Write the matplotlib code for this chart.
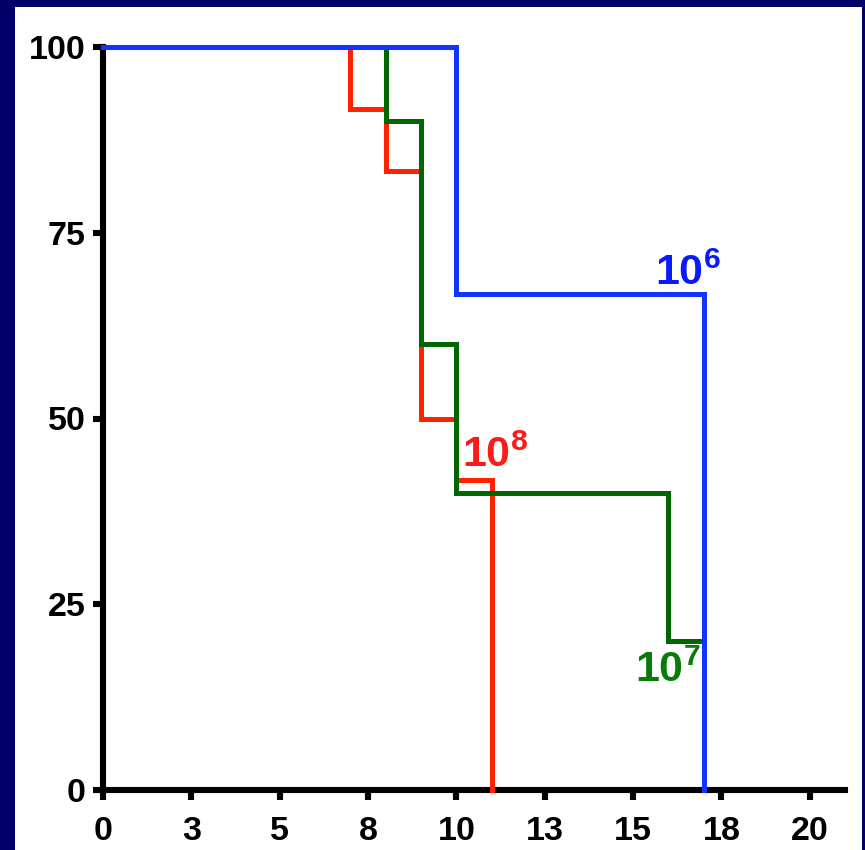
import matplotlib
matplotlib.use("Agg")
import matplotlib.pyplot as plt
from matplotlib.patches import Rectangle

plt.rcParams['font.family'] = ['Liberation Sans', 'DejaVu Sans']
plt.rcParams['mathtext.fontset'] = 'custom'
plt.rcParams['mathtext.bf'] = 'Liberation Sans:bold'
plt.rcParams['mathtext.rm'] = 'Liberation Sans:bold'

# Survival curves (step post): time, percent survival
red_t = [0, 7, 8, 9, 10, 11]
red_s = [100, 91.7, 83.3, 50, 41.7, 0]
green_t = [0, 8, 9, 10, 16, 17]
green_s = [100, 90, 60, 40, 20, 0]
blue_t = [0, 10, 17]
blue_s = [100, 66.7, 0]

labels = ["$\\mathbf{10^{8}}$", "$\\mathbf{10^{7}}$", "$\\mathbf{10^{6}}$"]
label_x = [10.17, 15.05, 15.62]
label_y = [43.5, 14.5, 68.0]

x_ticks = [0, 2.5, 5, 7.5, 10, 12.5, 15, 17.5, 20]
x_tick_labels = ['0', '3', '5', '8', '10', '13', '15', '18', '20']
y_ticks = [0, 25, 50, 75, 100]
y_tick_labels = ['0', '25', '50', '75', '100']

W, H = 865, 850
fig = plt.figure(figsize=(W / 100, H / 100), dpi=100)
fig.patch.set_facecolor('#000066')
fig.patches.append(Rectangle((15 / W, 0), (862 - 15) / W, (850 - 7) / H,
                             transform=fig.transFigure, facecolor='white',
                             edgecolor='none', zorder=-10))

ax = fig.add_axes([103 / W, (850 - 790) / H, (845 - 103) / W, (790 - 47) / H])
ax.set_facecolor('none')

def steps(t, s):
    xs, ys = [t[0]], [s[0]]
    for i in range(1, len(t)):
        xs += [t[i], t[i]]
        ys += [s[i - 1], s[i]]
    return xs, ys

for t, s, c, z in [(red_t, red_s, '#FF2200', 3), (green_t, green_s, '#006600', 4),
                   (blue_t, blue_s, '#1033FF', 5)]:
    xs, ys = steps(t, s)
    ax.plot(xs, ys, color=c, lw=3.6, solid_joinstyle='miter', zorder=z, clip_on=False)

for lab, x, y, c in zip(labels, label_x, label_y, ['#FF1A1A', '#0A7A0A', '#0A1AFF']):
    ax.text(x, y, lab, color=c, fontsize=31, ha='left', va='baseline', zorder=6)

ax.set_xlim(0, 21)
ax.set_ylim(0, 100)
ax.set_xticks(x_ticks)
ax.set_xticklabels(x_tick_labels)
ax.set_yticks(y_ticks)
ax.set_yticklabels(y_tick_labels)
for sp in ['top', 'right']:
    ax.spines[sp].set_visible(False)
for sp in ['left', 'bottom']:
    ax.spines[sp].set_linewidth(4.4)
    ax.spines[sp].set_color('black')
    ax.spines[sp].set_zorder(2)
ax.tick_params(axis='both', direction='out', length=7.5, width=4.4, color='black',
               labelsize=24.5)
ax.tick_params(axis='x', pad=11)
ax.tick_params(axis='y', pad=5)
for lbl in ax.get_xticklabels() + ax.get_yticklabels():
    lbl.set_fontweight('bold')

fig.savefig('out.png', dpi=100)
